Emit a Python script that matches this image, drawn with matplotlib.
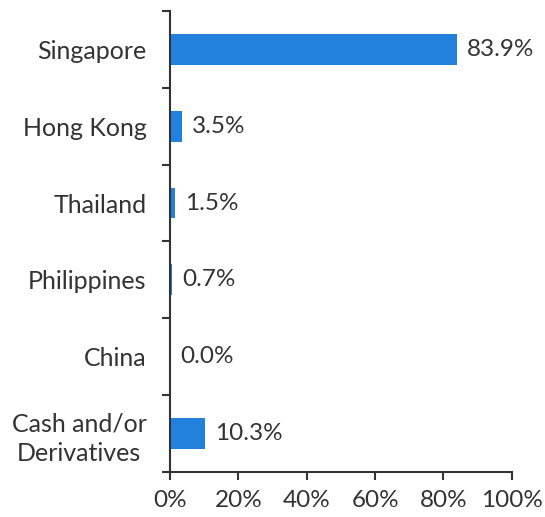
import matplotlib.pyplot as plt
import numpy as np

countries = ["Singapore", "Hong Kong", "Thailand", "Philippines", "China", "Cash and/or\nDerivatives"]
weights = [83.9, 3.5, 1.5, 0.7, 0.0, 10.3]
xticks = [0, 20, 40, 60, 80, 100]

plt.rcParams['font.family'] = ['Lato', 'DejaVu Sans']
ink = '#333333'
bar_color = '#2281dc'

fig = plt.figure(figsize=(5.45, 5.17), dpi=100)
ax = fig.add_axes([0.312, 0.087, 0.627, 0.892])

y = np.arange(len(countries))
ax.barh(y, weights, height=0.4, color=bar_color)
for yi, w in zip(y, weights):
    ax.annotate(f"{w:.1f}%", (w, yi), xytext=(7, 0), textcoords='offset points',
                va='center', ha='left', fontsize=17.5, color=ink)

ax.set_ylim(len(countries) - 0.5, -0.5)
ax.set_xlim(0, 100)
ax.set_yticks(y)
ax.set_yticklabels(countries, multialignment='center', linespacing=1.35)
ax.set_yticks(np.arange(len(countries) + 1) - 0.5, minor=True)
ax.tick_params(axis='y', which='major', length=0, pad=17, labelsize=18, labelcolor=ink)
ax.tick_params(axis='y', which='minor', length=6, width=1.5, color=ink)
ax.set_xticks(xticks)
ax.set_xticklabels([f"{t}%" for t in xticks])
ax.tick_params(axis='x', length=6, width=1.5, color=ink, labelsize=17.5, labelcolor=ink, pad=7)

for side in ['top', 'right']:
    ax.spines[side].set_visible(False)
for side in ['left', 'bottom']:
    ax.spines[side].set_color(ink)
    ax.spines[side].set_linewidth(1.5)

fig.savefig("out.png", dpi=100)
